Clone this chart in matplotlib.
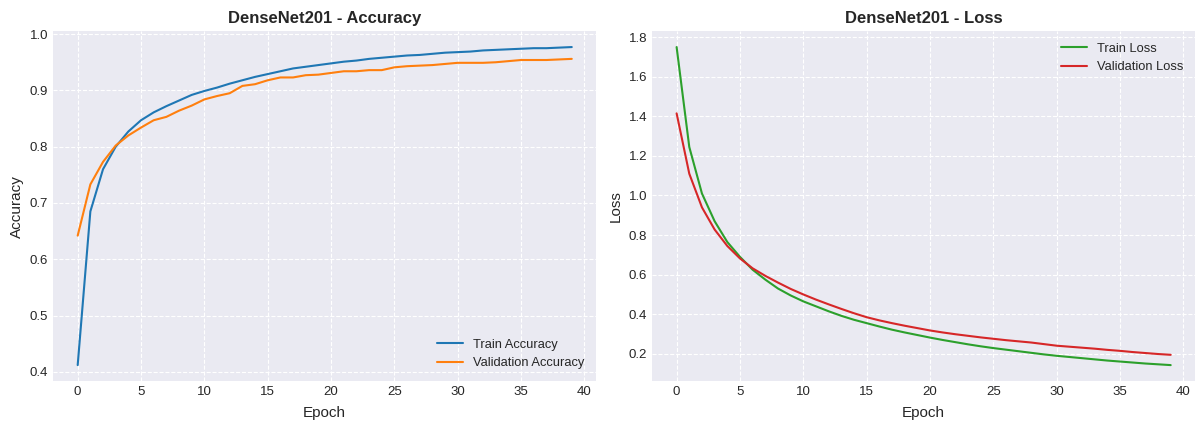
import matplotlib
matplotlib.use("Agg")
import matplotlib.pyplot as plt
import numpy as np

# Training history
epochs = list(range(40))

train_acc = [0.412, 0.685, 0.760, 0.800, 0.827, 0.847, 0.861, 0.872, 0.882, 0.892,
             0.899, 0.905, 0.912, 0.918, 0.924, 0.929, 0.934, 0.939, 0.942, 0.945,
             0.948, 0.951, 0.953, 0.956, 0.958, 0.960, 0.962, 0.963, 0.965, 0.967,
             0.968, 0.969, 0.971, 0.972, 0.973, 0.974, 0.975, 0.975, 0.976, 0.977]
val_acc = [0.642, 0.733, 0.773, 0.802, 0.820, 0.834, 0.847, 0.853, 0.864, 0.873,
           0.884, 0.890, 0.895, 0.908, 0.911, 0.918, 0.923, 0.923, 0.927, 0.928,
           0.931, 0.934, 0.934, 0.936, 0.936, 0.941, 0.943, 0.944, 0.945, 0.947,
           0.949, 0.949, 0.949, 0.950, 0.952, 0.954, 0.954, 0.954, 0.955, 0.956]

train_loss = [1.750, 1.245, 1.010, 0.870, 0.765, 0.690, 0.625, 0.575, 0.530, 0.495,
              0.465, 0.440, 0.415, 0.392, 0.372, 0.355, 0.338, 0.322, 0.308, 0.295,
              0.282, 0.270, 0.259, 0.248, 0.238, 0.229, 0.221, 0.213, 0.205, 0.197,
              0.190, 0.184, 0.178, 0.172, 0.166, 0.161, 0.156, 0.151, 0.147, 0.143]
val_loss = [1.415, 1.110, 0.940, 0.828, 0.745, 0.682, 0.632, 0.594, 0.560, 0.528,
            0.500, 0.474, 0.450, 0.427, 0.405, 0.385, 0.369, 0.355, 0.342, 0.330,
            0.318, 0.308, 0.299, 0.291, 0.283, 0.276, 0.269, 0.263, 0.257, 0.249,
            0.241, 0.236, 0.231, 0.226, 0.220, 0.215, 0.209, 0.204, 0.199, 0.195]

model_name = "DenseNet201"

plt.style.use("seaborn-v0_8-darkgrid")
plt.rcParams["font.family"] = ["Liberation Sans", "DejaVu Sans"]
plt.rcParams["grid.linestyle"] = "--"
plt.rcParams["xtick.labelsize"] = 9.5
plt.rcParams["ytick.labelsize"] = 9.5

fig, (ax1, ax2) = plt.subplots(1, 2, figsize=(11.96, 4.21), dpi=100)
fig.subplots_adjust(left=0.0443, right=0.9995, top=0.926, bottom=0.095, wspace=0.102)

# Accuracy panel
ax1.plot(epochs, train_acc, color="tab:blue", label="Train Accuracy")
ax1.plot(epochs, val_acc, color="tab:orange", label="Validation Accuracy")
ax1.set_title(f"{model_name} - Accuracy", fontsize=12, fontweight="bold")
ax1.set_xlabel("Epoch", fontsize=11, labelpad=6)
ax1.set_ylabel("Accuracy", fontsize=11)
ax1.legend(loc="lower right", fontsize=9.3)

# Loss panel
ax2.plot(epochs, train_loss, color="tab:green", label="Train Loss")
ax2.plot(epochs, val_loss, color="tab:red", label="Validation Loss")
ax2.set_title(f"{model_name} - Loss", fontsize=12, fontweight="bold")
ax2.set_xlabel("Epoch", fontsize=11, labelpad=6)
ax2.set_ylabel("Loss", fontsize=11)
ax2.legend(loc="upper right", fontsize=9.3)

plt.savefig("out.png")
